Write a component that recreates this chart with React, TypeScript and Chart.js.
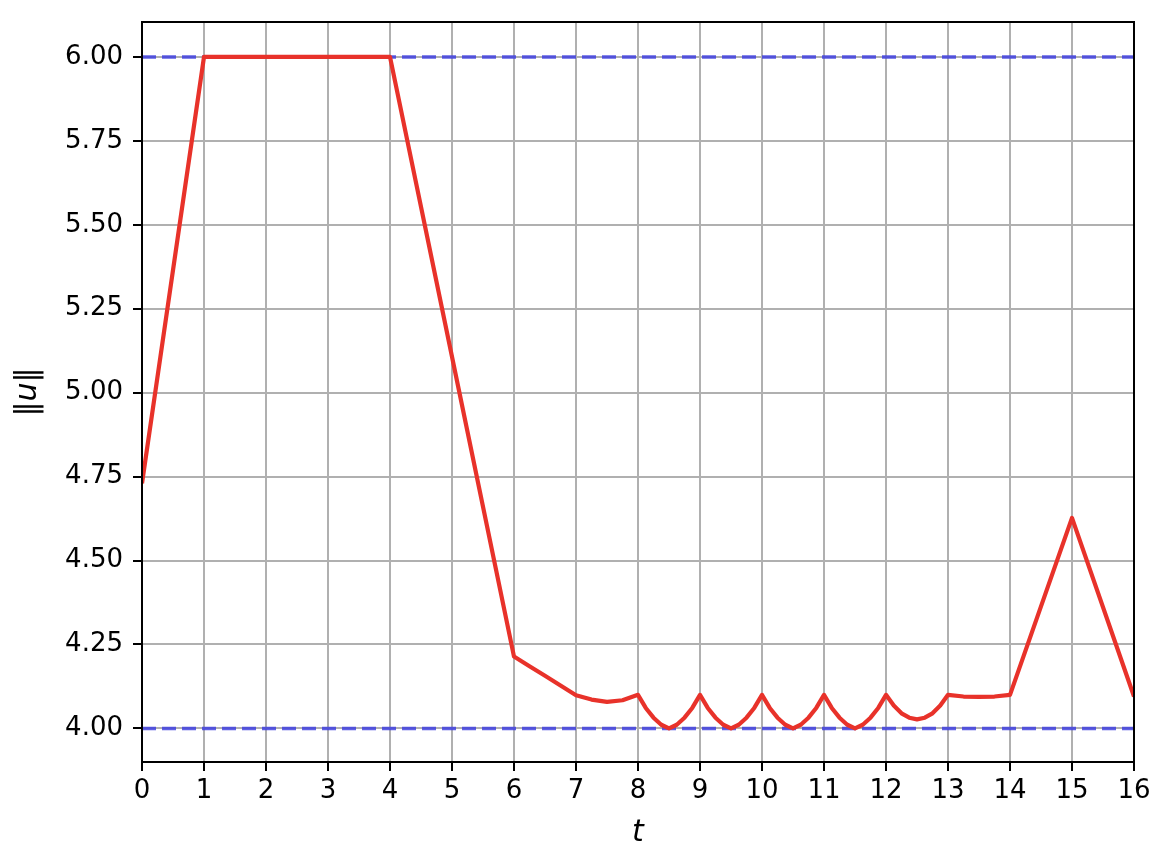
import React, { useEffect, useRef } from "react";
import { Chart, registerables } from "chart.js";

Chart.register(...registerables);

// Time samples and norm values ‖u(t)‖
const tValues = [
  0, 1, 2, 3, 4, 5, 6,
  6.25, 6.5, 6.75, 7, 7.25, 7.5, 7.75,
  8, 8.125, 8.25, 8.375, 8.5, 8.625, 8.75, 8.875,
  9, 9.125, 9.25, 9.375, 9.5, 9.625, 9.75, 9.875,
  10, 10.125, 10.25, 10.375, 10.5, 10.625, 10.75, 10.875,
  11, 11.125, 11.25, 11.375, 11.5, 11.625, 11.75, 11.875,
  12, 12.125, 12.25, 12.375, 12.5, 12.625, 12.75, 12.875,
  13, 13.25, 13.5, 13.75, 14, 15, 16,
];
const uValues = [
  4.73, 6.0, 6.0, 6.0, 6.0, 5.107, 4.214,
  4.185, 4.157, 4.128, 4.099, 4.086, 4.079, 4.084,
  4.1, 4.061, 4.032, 4.011, 4.0, 4.011, 4.032, 4.061,
  4.1, 4.061, 4.032, 4.011, 4.0, 4.011, 4.032, 4.061,
  4.1, 4.061, 4.032, 4.011, 4.0, 4.011, 4.032, 4.061,
  4.1, 4.061, 4.032, 4.011, 4.0, 4.011, 4.032, 4.061,
  4.1, 4.068, 4.045, 4.032, 4.027, 4.032, 4.045, 4.068,
  4.1, 4.095, 4.094, 4.095, 4.1, 4.627, 4.095,
];

// Bounds (dashed lines)
const upperBound = 6.0;
const lowerBound = 4.0;
const tRange = [0, 16];

// Tick labels
const xTicks = [0, 1, 2, 3, 4, 5, 6, 7, 8, 9, 10, 11, 12, 13, 14, 15, 16];
const yTicks = [4.0, 4.25, 4.5, 4.75, 5.0, 5.25, 5.5, 5.75, 6.0];

const FONT = "'DejaVu Sans', sans-serif";

const framePlugin = {
  id: "frame",
  afterDraw(chart: any) {
    const { ctx, chartArea } = chart;
    ctx.save();
    ctx.strokeStyle = "#000";
    ctx.lineWidth = 2;
    ctx.strokeRect(
      chartArea.left,
      chartArea.top,
      chartArea.right - chartArea.left,
      chartArea.bottom - chartArea.top
    );
    ctx.restore();
  },
};

export default function App() {
  const ref = useRef<HTMLCanvasElement | null>(null);

  useEffect(() => {
    document.body.style.margin = "0";
    if (!ref.current) return;
    const mainData = tValues.map((t, i) => ({ x: t, y: uValues[i] }));
    const chart = new Chart(ref.current, {
      type: "line",
      data: {
        datasets: [
          {
            label: "‖u‖",
            data: mainData,
            borderColor: "#e8322a",
            borderWidth: 4.2,
            pointRadius: 0,
            tension: 0,
            fill: false,
            borderJoinStyle: "round",
          },
          {
            label: "upper",
            data: tRange.map((t) => ({ x: t, y: upperBound })),
            borderColor: "rgba(60,60,225,0.82)",
            borderWidth: 3.5,
            borderDash: [14, 6],
            pointRadius: 0,
            fill: false,
          },
          {
            label: "lower",
            data: tRange.map((t) => ({ x: t, y: lowerBound })),
            borderColor: "rgba(60,60,225,0.82)",
            borderWidth: 3.5,
            borderDash: [14, 6],
            pointRadius: 0,
            fill: false,
          },
        ],
      },
      options: {
        animation: false,
        responsive: false,
        layout: { padding: { top: 22, right: 38, left: 0, bottom: 0 } },
        plugins: {
          legend: { display: false },
          tooltip: { enabled: false },
        },
        scales: {
          x: {
            type: "linear",
            min: 0,
            max: 16,
            afterFit: (s: any) => {
              s.height = 94;
              s.paddingLeft = 0;
              s.paddingRight = 0;
            },
            afterBuildTicks: (s: any) => {
              s.ticks = xTicks.map((v) => ({ value: v }));
            },
            grid: {
              color: "#b0b0b0",
              lineWidth: 2,
              tickColor: "#000",
              tickWidth: 2,
              tickLength: 9,
            },
            border: { color: "#000", width: 2 },
            ticks: {
              color: "#000",
              font: { family: FONT, size: 26 },
              padding: 5,
              maxRotation: 0,
              autoSkip: false,
              callback: (v: any) => String(v),
            },
            title: {
              display: true,
              text: "t",
              color: "#000",
              font: { family: FONT, size: 30, style: "italic" },
              padding: { top: 0, bottom: 5 },
            },
          },
          y: {
            type: "linear",
            min: 3.9,
            max: 6.104,
            afterFit: (s: any) => {
              s.width = 142;
              s.paddingTop = 0;
              s.paddingBottom = 0;
            },
            afterBuildTicks: (s: any) => {
              s.ticks = yTicks.map((v) => ({ value: v }));
            },
            grid: {
              color: "#b0b0b0",
              lineWidth: 2,
              tickColor: "#000",
              tickWidth: 2,
              tickLength: 9,
            },
            border: { color: "#000", width: 2 },
            ticks: {
              color: "#000",
              font: { family: FONT, size: 26 },
              padding: 10,
              autoSkip: false,
              callback: (v: any) => Number(v).toFixed(2),
            },
            title: {
              display: true,
              text: "‖u‖",
              color: "#000",
              font: { family: FONT, size: 30, style: "italic" },
              padding: { top: 10, bottom: 0 },
            },
          },
        },
      },
      plugins: [framePlugin],
    });
    return () => chart.destroy();
  }, []);

  return <canvas ref={ref} width={1172} height={856} style={{ display: "block" }} />;
}
